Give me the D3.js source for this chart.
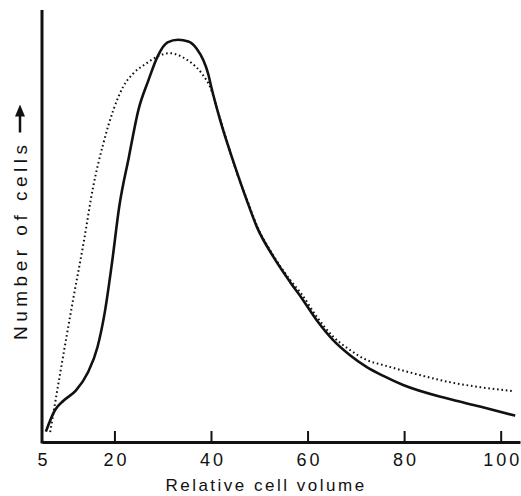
<!DOCTYPE html>
<html>
<head>
<meta charset="utf-8">
<script src="https://cdn.jsdelivr.net/npm/d3@7"></script>
<style>
  body { margin: 0; background: #fff; }
  text { font-family: "Liberation Sans", "DejaVu Sans", sans-serif; fill: #111; }
</style>
</head>
<body>
<div id="chart"></div>
<script>
// tick values on the x axis
var xTicks = [5, 20, 40, 60, 80, 100];

// solid curve (relative cell volume, number of cells)
var solidX = [5.8, 7.7, 9.5, 12, 14.5, 16.5, 18, 19.5, 21, 23, 25, 27, 29, 31, 33.2, 35.3, 37, 38.4, 39.4, 40.1, 41.9, 45, 47.4, 49.5, 52.9, 56.4, 58.8, 61.9, 65.3, 68.8, 72.2, 75.7, 79.8, 88.8, 95.7, 103];
var solidY = [2.4, 7.4, 9.6, 11.9, 16.1, 22, 30, 41.5, 54.5, 66, 77, 83.6, 89.4, 92.5, 93.1, 92.7, 91.1, 88.4, 85.3, 82, 74.5, 63.7, 56, 49.8, 42.9, 37, 33.3, 28.2, 23.6, 20.1, 17.4, 15.3, 13.2, 10.1, 8.2, 6.1];

// dotted curve
var dotX = [6.7, 8.7, 11.5, 13.6, 15.6, 17.7, 19.8, 21.8, 23.9, 26.7, 28.8, 31.5, 33.9, 36.0, 38.1, 39.8, 41.9, 45.3, 47.4, 49.5, 52.9, 56.4, 58.8, 61.9, 65.3, 68.8, 72.2, 75.7, 81.9, 88.8, 95.7, 102.3];
var dotY = [2.3, 15.5, 33.3, 46.0, 59.1, 69.1, 76.9, 82.2, 85.3, 87.7, 89.2, 90.0, 89.2, 87.7, 85.3, 82.2, 74.8, 62.5, 56.3, 50.1, 43.2, 37.5, 34.2, 29.0, 24.4, 21.3, 19.0, 17.8, 15.9, 14.0, 12.7, 11.8];

var width = 521, height = 496;

var svg = d3.select("#chart")
            .append("svg")
            .attr("width", width)
            .attr("height", height);

// escalas
var xScale = d3.scaleLinear()
               .domain([5, 104])
               .range([42, 520]);

var yScale = d3.scaleLinear()
               .domain([0, 100])
               .range([442, 10]);

var line = d3.line()
             .x(function(d) { return xScale(d[0]); })
             .y(function(d) { return yScale(d[1]); })
             .curve(d3.curveMonotoneX);

var dotted = d3.zip(dotX, dotY);
var solid = d3.zip(solidX, solidY);

svg.append("path")
   .attr("d", line(dotted))
   .attr("fill", "none")
   .attr("stroke", "#111")
   .attr("stroke-width", 2)
   .attr("stroke-dasharray", "1.6,2.8");

svg.append("path")
   .attr("d", line(solid))
   .attr("fill", "none")
   .attr("stroke", "#111")
   .attr("stroke-width", 2.6);

// eixo x, ticks pointing up into the plot
var xAxis = svg.append("g")
   .attr("transform", "translate(0," + yScale(0) + ")")
   .call(d3.axisBottom(xScale).tickValues(xTicks).tickSizeInner(-11).tickSizeOuter(0).tickPadding(6));

xAxis.select(".domain")
     .attr("stroke-width", 3)
     .attr("stroke", "#111");
xAxis.selectAll(".tick line")
     .attr("stroke-width", 2)
     .attr("stroke", "#111");
xAxis.selectAll(".tick text")
     .attr("dy", "1.0em")
     .attr("dx", "1.5px")
     .style("font-size", "18px")
     .style("letter-spacing", "3px")
     .style("fill", "#111");
xAxis.selectAll(".tick")
     .filter(function(d) { return d === 5; })
     .select("line").remove();

// eixo y, no ticks
svg.append("line")
   .attr("x1", xScale(5))
   .attr("x2", xScale(5))
   .attr("y1", yScale(100))
   .attr("y2", yScale(0) + 1.5)
   .attr("stroke", "#111")
   .attr("stroke-width", 3);

// rotulos
svg.append("text")
   .attr("x", 266)
   .attr("y", 491)
   .attr("text-anchor", "middle")
   .style("font-size", "17px")
   .style("letter-spacing", "2.5px")
   .text("Relative cell volume");

var yLab = svg.append("g")
   .attr("transform", "translate(27,340) rotate(-90)");

var yText = yLab.append("text")
   .attr("x", 0)
   .attr("y", 0)
   .style("font-size", "19px")
   .style("letter-spacing", "4.5px")
   .text("Number of cells");

// arrow after the label
var len = yText.node().getComputedTextLength() + 8;
yLab.append("line")
    .attr("x1", len)
    .attr("x2", len + 20)
    .attr("y1", -7)
    .attr("y2", -7)
    .attr("stroke", "#111")
    .attr("stroke-width", 2.5);
yLab.append("path")
    .attr("d", "M" + (len + 28) + ",-7 L" + (len + 16) + ",-12 L" + (len + 16) + ",-2 Z")
    .attr("fill", "#111");
</script>
</body>
</html>
